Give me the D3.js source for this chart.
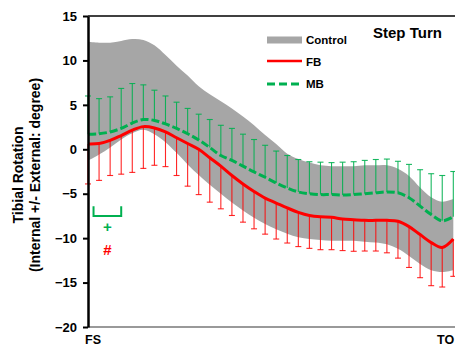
<!DOCTYPE html>
<html>
<head>
<meta charset="utf-8">
<script src="https://cdn.jsdelivr.net/npm/d3@7"></script>
<style>
  body { margin: 0; background: #fff; }
  svg { display: block; font-family: Arial, "Liberation Sans", sans-serif; font-weight: bold; }
</style>
</head>
<body>
<svg id="chart" width="455" height="347"></svg>
<script>
// % of stance, one point per error bar
const pct = [0, 3, 6, 9, 12, 15, 18, 21, 24, 27, 30, 33, 36, 39, 42, 45, 48,
             51, 54, 57, 60, 63, 66, 69, 72, 75, 78, 81, 84, 87, 90, 93, 96, 99];

const controlMean = [5.4, 5.7, 6.1, 6.65, 7.1, 7.25, 6.7, 5.7, 4.5, 3.3, 2.1, 1.1, 0.2, -0.7, -1.6, -2.5, -3.4,
                     -4.2, -5.0, -5.5, -5.8, -6.0, -6.1, -6.1, -6.1, -6.1, -6.15, -6.25, -6.7, -7.5, -8.6, -9.5, -9.85, -9.6];
const controlSD = [6.7, 6.3, 5.9, 5.55, 5.3, 5.05, 5.0, 4.9, 4.9, 5.0, 5.0, 5.1, 5.2, 5.3, 5.3, 5.2, 5.0,
                   4.8, 4.5, 4.4, 4.3, 4.2, 4.2, 4.2, 4.2, 4.3, 4.35, 4.45, 4.5, 4.5, 4.3, 4.1, 3.95, 4.0];

const fbMean = [0.6, 0.65, 1.0, 1.55, 2.15, 2.55, 2.4, 1.95, 1.3, 0.65, 0.0, -0.95, -1.9, -2.95, -3.9, -4.75, -5.5,
                -6.05, -6.6, -7.1, -7.45, -7.6, -7.65, -7.85, -7.93, -8.0, -8.0, -8.0, -8.1, -8.7, -9.6, -10.5, -11.05, -10.1];
const fbSD = [4.5, 4.15, 3.95, 4.35, 4.75, 4.7, 4.2, 3.9, 4.25, 4.8, 5.1, 5.0, 4.8, 4.5, 4.3, 4.2, 4.05,
              4.05, 3.95, 3.85, 3.7, 3.7, 3.65, 3.55, 3.55, 3.45, 3.45, 3.65, 4.15, 4.6, 4.85, 4.85, 4.45, 4.2];

const mbMean = [1.7, 1.75, 1.95, 2.35, 2.95, 3.35, 3.25, 2.85, 2.35, 1.75, 1.05, 0.2, -0.7, -1.25, -1.9, -2.55, -3.15,
                -3.8, -4.35, -4.8, -5.0, -5.1, -5.1, -5.15, -5.1, -5.0, -4.9, -4.8, -4.9, -5.45, -6.4, -7.35, -8.05, -7.6];
const mbSD = [4.3, 3.95, 3.95, 4.5, 4.45, 3.9, 3.4, 3.15, 2.95, 2.85, 2.9, 3.15, 3.4, 3.6, 3.6, 3.65, 3.6,
              3.6, 3.65, 3.65, 3.6, 3.65, 3.6, 3.7, 3.7, 3.75, 3.75, 3.7, 3.55, 3.75, 4.1, 4.6, 5.1, 5.1];

const yTicks = [-20, -15, -10, -5, 0, 5, 10, 15];
const legendItems = ["Control", "FB", "MB"];

// significance marker: bracket span (% stance) and level
const sigSpan = [1.5, 9];
const sigLevel = [-6.4, -7.5];

const RED = "#ff0000", GREEN = "#00b050", GRAY = "#a6a6a6";

const svg = d3.select("#chart");

const x = d3.scaleLinear().domain([0, 100]).range([88, 457]);
const y = d3.scaleLinear().domain([-20, 15]).range([327, 16]);

const rows = pct.map((p, i) => ({
    p: p,
    cm: controlMean[i], cs: controlSD[i],
    fm: fbMean[i], fs: fbSD[i],
    mm: mbMean[i], ms: mbSD[i]
}));

// control band
const band = d3.area()
    .x(d => x(d.p))
    .y0(d => y(d.cm - d.cs))
    .y1(d => y(d.cm + d.cs))
    .curve(d3.curveCatmullRom);

svg.append("path")
    .datum(rows)
    .attr("d", band)
    .attr("fill", GRAY);

// error bars (FB downward, MB upward)
function error_bars (cls, color, getEnd, getMean, op) {
    let g = svg.append("g").classed(cls, true)
        .attr("stroke", color)
        .attr("stroke-opacity", op)
        .attr("stroke-width", 1.1);
    g.selectAll("line.v")
        .data(rows)
        .enter()
        .append("line")
        .attr("class", "v")
        .attr("x1", d => x(d.p)).attr("x2", d => x(d.p))
        .attr("y1", d => y(getMean(d))).attr("y2", d => y(getEnd(d)));
    g.selectAll("line.c")
        .data(rows)
        .enter()
        .append("line")
        .attr("class", "c")
        .attr("x1", d => x(d.p) - 3).attr("x2", d => x(d.p) + 3)
        .attr("y1", d => y(getEnd(d))).attr("y2", d => y(getEnd(d)));
}

error_bars("fb_err", RED, d => d.fm - d.fs, d => d.fm, 0.85);
error_bars("mb_err", GREEN, d => d.mm + d.ms, d => d.mm, 0.9);

// mean lines
const line = key => d3.line()
    .x(d => x(d.p))
    .y(d => y(d[key]))
    .curve(d3.curveCatmullRom);

svg.append("path")
    .datum(rows)
    .attr("d", line("mm"))
    .attr("fill", "none")
    .attr("stroke", GREEN)
    .attr("stroke-width", 3)
    .attr("stroke-dasharray", "8,3");

svg.append("path")
    .datum(rows)
    .attr("d", line("fm"))
    .attr("fill", "none")
    .attr("stroke", RED)
    .attr("stroke-width", 3);

// frame top/bottom
svg.append("line")
    .attr("x1", x(0)).attr("x2", 455)
    .attr("y1", y(15)).attr("y2", y(15))
    .attr("stroke", "#000").attr("stroke-width", 1.5);
svg.append("line")
    .attr("x1", x(0)).attr("x2", 455)
    .attr("y1", y(-20)).attr("y2", y(-20))
    .attr("stroke", "#777").attr("stroke-width", 1.5);

// y axis
const yAxis = svg.append("g")
    .attr("transform", `translate(${x(0)},0)`)
    .call(d3.axisLeft(y).tickValues(yTicks).tickSize(5).tickSizeOuter(0).tickPadding(6));
yAxis.select(".domain").attr("stroke-width", 2.5);
yAxis.selectAll(".tick line").attr("stroke-width", 2);
yAxis.selectAll(".tick text")
    .attr("font-size", 13)
    .attr("font-weight", "bold")
    .attr("font-family", "Arial, 'Liberation Sans', sans-serif")
    .attr("fill", "#000");

// y label
const yLab = svg.append("text")
    .attr("transform", "translate(23,175)rotate(-90)")
    .attr("text-anchor", "middle")
    .attr("font-size", 14);
yLab.append("tspan").attr("x", 0).attr("dy", 0).text("Tibial Rotation");
yLab.append("tspan").attr("x", 0).attr("dy", 17).text("(Internal +/- External: degree)");

// x end labels
svg.append("text").attr("x", x(0) - 3).attr("y", 344).attr("font-size", 12.5).text("FS");
svg.append("text").attr("x", 437).attr("y", 344).attr("font-size", 12.5).text("TO");

// title
svg.append("text").attr("x", 373).attr("y", 38).attr("font-size", 15).text("Step Turn");

// legend
const leg = svg.append("g").attr("transform", "translate(267,40)");
leg.append("rect").attr("x", 0).attr("y", -3.5).attr("width", 35).attr("height", 7).attr("fill", GRAY);
leg.append("line").attr("x1", 0).attr("x2", 35).attr("y1", 21).attr("y2", 21)
    .attr("stroke", RED).attr("stroke-width", 2.5);
leg.append("line").attr("x1", 0).attr("x2", 35).attr("y1", 44).attr("y2", 44)
    .attr("stroke", GREEN).attr("stroke-width", 3).attr("stroke-dasharray", "8,4");
leg.selectAll("text.lbl")
    .data(legendItems)
    .enter()
    .append("text")
    .attr("class", "lbl")
    .attr("x", 39)
    .attr("y", (d, i) => i * 22 + 4)
    .attr("font-size", 11.5)
    .text(d => d);

// significance
svg.append("path")
    .attr("d", `M${x(sigSpan[0])},${y(sigLevel[0])}V${y(sigLevel[1])}H${x(sigSpan[1])}V${y(sigLevel[0])}`)
    .attr("fill", "none").attr("stroke", GREEN).attr("stroke-width", 2);
const sigMid = (sigSpan[0] + sigSpan[1]) / 2;
svg.append("text").attr("x", x(sigMid)).attr("y", 232).attr("text-anchor", "middle")
    .attr("font-size", 15).attr("fill", GREEN).text("+");
svg.append("text").attr("x", x(sigMid)).attr("y", 255).attr("text-anchor", "middle")
    .attr("font-size", 15).attr("fill", RED).text("#");
</script>
</body>
</html>
